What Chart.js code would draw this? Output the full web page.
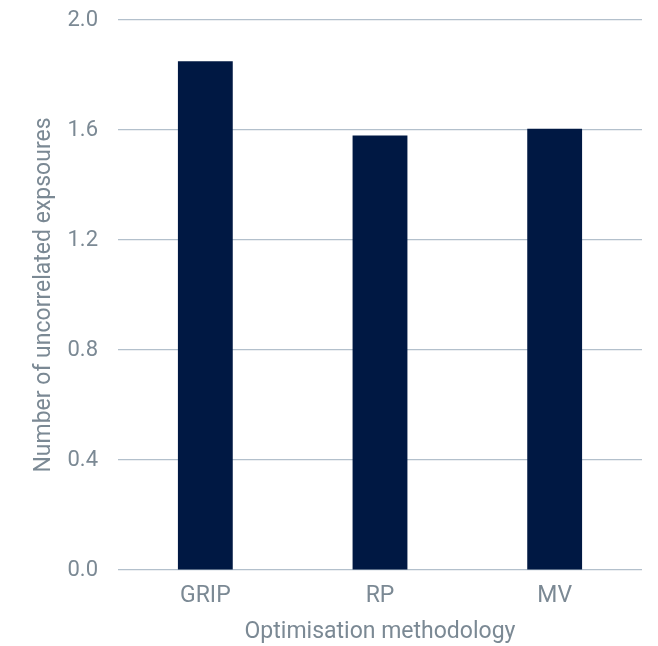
<!DOCTYPE html>
<html>
<head>
<meta charset="utf-8">
<style>
  html, body { margin: 0; padding: 0; background: #ffffff; }
  #wrap { width: 658px; height: 646px; }
</style>
<script src="https://cdn.jsdelivr.net/npm/chart.js@4/dist/chart.umd.min.js"></script>
</head>
<body>
<div id="wrap"><canvas id="c" width="658" height="646"></canvas></div>
<script>
// Number of uncorrelated exposures by optimisation methodology
const methods = ['GRIP', 'RP', 'MV'];
const exposures = [1.85, 1.58, 1.605];
const yTicks = [0, 0.4, 0.8, 1.2, 1.6, 2.0];

const textColor = '#7b8994';
const gridColor = '#b3c0cc';
const barColor = '#001843';
const fontFamily = "Roboto, 'Liberation Sans', Arial, sans-serif";
const tickFontY = { family: fontFamily, size: 22, weight: 400 };
const tickFontX = { family: fontFamily, size: 23, weight: 400 };
const titleFont = { family: fontFamily, size: 23, weight: 400 };

new Chart(document.getElementById('c'), {
  type: 'bar',
  data: {
    labels: methods,
    datasets: [{
      data: exposures,
      backgroundColor: barColor,
      borderWidth: 0,
      categoryPercentage: 1.0,
      barPercentage: 0.314
    }]
  },
  options: {
    responsive: false,
    animation: false,
    devicePixelRatio: 1,
    layout: { padding: { top: 20, right: 16, bottom: 0, left: 0 } },
    plugins: { legend: { display: false }, tooltip: { enabled: false } },
    scales: {
      x: {
        grid: { display: false, drawTicks: false },
        border: { display: false },
        ticks: { color: textColor, font: tickFontX, padding: 12 },
        title: {
          display: true,
          text: 'Optimisation methodology',
          color: textColor,
          font: titleFont,
          padding: { top: 0, bottom: 0 }
        },
        afterFit: (s) => { s.height = 76; s.paddingLeft = 0; s.paddingRight = 0; }
      },
      y: {
        min: 0,
        max: 2.0,
        afterBuildTicks: (s) => { s.ticks = yTicks.map(v => ({ value: v })); },
        grid: { color: gridColor, lineWidth: 1.2, drawTicks: false },
        border: { display: false },
        ticks: {
          color: textColor,
          font: tickFontY,
          padding: 20,
          callback: (v) => Number(v).toFixed(1)
        },
        title: {
          display: true,
          text: 'Number of uncorrelated expsoures',
          color: textColor,
          font: titleFont,
          padding: { top: 30, bottom: 0 }
        },
        afterFit: (s) => { s.width = 118; s.paddingTop = 0; s.paddingBottom = 0; }
      }
    }
  }
});
</script>
</body>
</html>
